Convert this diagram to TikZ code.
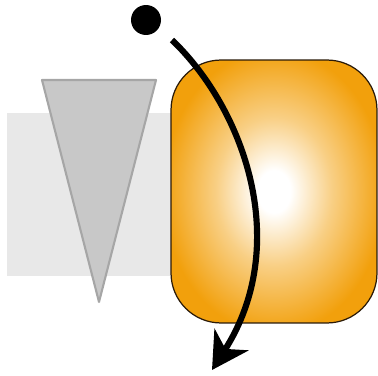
\documentclass[tikz,border=0pt]{standalone}
\usepackage{tikz}
\usepackage{xcolor}
\usetikzlibrary{arrows.meta,positioning}
\definecolor{Amber}{HTML}{F2A00C}
\definecolor{AmberEdge}{HTML}{2A1A08}
\definecolor{Mist}{HTML}{E8E8E8}
\definecolor{Slate}{HTML}{C8C8C8}
\definecolor{SlateEdge}{HTML}{A6A6A6}
\pgfdeclareradialshading{glow}{\pgfpoint{0bp}{0bp}}{%
    color(0bp)=(white); color(4bp)=(white);
    color(14bp)=(Amber!50!white); color(27bp)=(Amber); color(50bp)=(Amber)}
\tikzset{
    backplate/.style={
        fill=Mist, draw=none
    },
    wedge/.style={
        fill=Slate, draw=SlateEdge, line width=1.2pt, line join=round
    },
    block/.style={
        shading=glow, draw=AmberEdge, line width=0.7pt,
        rounded corners=1cm, minimum width=4.12cm, minimum height=5.26cm,
        inner sep=0pt
    },
    ball/.style={
        circle, fill=black, minimum size=0.6cm, inner sep=0pt
    },
    swing/.style={
        line width=3.5pt, black,
        -{Stealth[length=0.72cm, width=0.8cm, inset=0.22cm]}
    },
}

\begin{document}
\begin{tikzpicture}[x=0.02cm, y=-0.02cm]
    \useasboundingbox (0,0) rectangle (378,375);

    % light band behind everything
    \fill[backplate] (7,113) rectangle (210,276);

    % grey wedge
    \draw[wedge] (42,80) -- (156,80) -- (99,302) -- cycle;

    % orange block with glow
    \node[block] (box) at (274,191.5) {};

    % ball
    \node[ball] (dot) at (146,20) {};

    % curved arrow across the block
    \coordinate (swingstart) at (172,40);
    \coordinate (swingend) at (212,370);
    \draw[swing] (swingstart) .. controls (245,110) and (292,245) .. (swingend);
\end{tikzpicture}
\end{document}
